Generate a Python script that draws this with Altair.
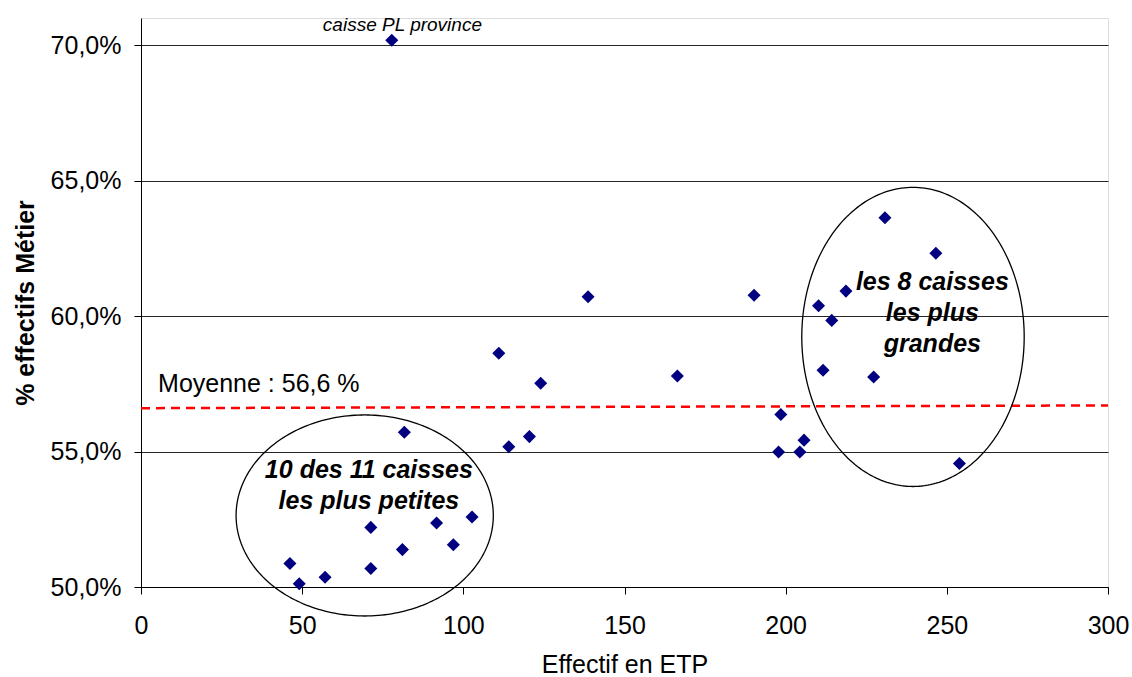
import altair as alt
import numpy as np
import pandas as pd

# Staff size (FTE) and share of "Métier" staff (%) per caisse
etp = [77.8, 46.2, 49.1, 57.1, 71.3, 71.3, 81.1, 81.7, 91.7, 96.9,
       102.7, 111.0, 114.1, 120.5, 124.0, 138.7, 166.4, 190.2, 197.8, 198.5,
       204.4, 205.7, 210.2, 211.6, 214.3, 218.7, 227.3, 230.8, 246.6, 253.9]
pct = [70.18, 50.87, 50.12, 50.36, 52.20, 50.68, 51.38, 55.71, 52.36, 51.56,
       52.58, 58.63, 55.18, 55.55, 57.52, 60.71, 57.79, 60.77, 54.98, 56.37,
       54.98, 55.42, 60.38, 58.00, 59.84, 60.92, 57.75, 63.63, 62.32, 54.56]

# Average line
mean_x = [0, 300]
mean_y = [56.6, 56.7]

# Groups circled on the chart: centre (x, y) and radii (x, y) in data units
groups = [
    {"cx": 69.4, "cy": 52.64, "rx": 39.9, "ry": 3.71},
    {"cx": 239.5, "cy": 59.23, "rx": 34.5, "ry": 5.52},
]

# Annotations
notes_bold = pd.DataFrame({
    "etp": [70.7, 245.5],
    "pct": [54.02, 60.96],
    "label": ["10 des 11 caisses\nles plus petites", "les 8 caisses\nles plus\ngrandes"],
})
note_outlier = pd.DataFrame({"etp": [81.1], "pct": [70.53], "label": ["caisse PL province"]})
note_mean = pd.DataFrame({"etp": [5.3], "pct": [57.2], "label": ["Moyenne : 56,6 %"]})

FONT = "Liberation Sans"

x = alt.X(
    "etp:Q",
    scale=alt.Scale(domain=[0, 300], nice=False, zero=False),
    axis=alt.Axis(
        title="Effectif en ETP", values=[0, 50, 100, 150, 200, 250, 300],
        grid=False, domainColor="black", tickColor="black", tickSize=7,
        labelFont=FONT, labelFontSize=25, labelColor="black", labelPadding=19,
        titleFont=FONT, titleFontSize=25, titleFontWeight="normal", titleColor="black",
        titlePadding=14, labelFlush=False,
    ),
)
y = alt.Y(
    "pct:Q",
    scale=alt.Scale(domain=[50, 71], nice=False, zero=False),
    axis=alt.Axis(
        title="% effectifs Métier", values=[50, 55, 60, 65, 70],
        labelExpr="replace(format(datum.value, '.1f'), '.', ',') + '%'",
        grid=True, gridColor="black", gridWidth=1, gridOpacity=0.85,
        domainColor="black", tickColor="black", tickSize=7,
        labelFont=FONT, labelFontSize=25, labelColor="black", labelPadding=13,
        titleFont=FONT, titleFontSize=25, titleFontWeight="bold", titleColor="black",
        titlePadding=12,
    ),
)

points = alt.Chart(pd.DataFrame({"etp": etp, "pct": pct})).mark_point(
    shape="diamond", filled=True, size=170, color="#000080", opacity=1
).encode(x=x, y=y)

mean_line = alt.Chart(pd.DataFrame({"etp": mean_x, "pct": mean_y})).mark_line(
    color="#ff0000", strokeWidth=2.5, strokeDash=[9, 6]
).encode(x=x, y=y)

ellipse_frames = []
t = np.linspace(0, 2 * np.pi, 241)
for k, g in enumerate(groups):
    ellipse_frames.append(pd.DataFrame({
        "etp": g["cx"] + g["rx"] * np.cos(t),
        "pct": g["cy"] + g["ry"] * np.sin(t),
        "i": np.arange(len(t)),
        "grp": k,
    }))
ellipses = alt.Chart(pd.concat(ellipse_frames)).mark_line(
    color="black", strokeWidth=1.3, clip=False
).encode(x=x, y=y, order="i:Q", detail="grp:N")

bold_text = alt.Chart(notes_bold).mark_text(
    font=FONT, fontSize=25, fontWeight="bold", fontStyle="italic",
    align="center", baseline="alphabetic", lineBreak="\n", lineHeight=31, color="black"
).encode(x=x, y=y, text="label:N")

outlier_text = alt.Chart(note_outlier).mark_text(
    font=FONT, fontSize=19, fontStyle="italic", align="center",
    baseline="alphabetic", color="black"
).encode(x=x, y=y, text="label:N")

mean_text = alt.Chart(note_mean).mark_text(
    font=FONT, fontSize=25, align="left", baseline="alphabetic", color="black"
).encode(x=x, y=y, text="label:N")

chart = alt.layer(
    mean_line, ellipses, points, bold_text, outlier_text, mean_text
).properties(
    width=967, height=569,
    autosize=alt.AutoSizeParams(type="none"),
    padding={"left": 141, "top": 18, "right": 24, "bottom": 90},
).configure_view(stroke=None).configure(background="white")

chart.save("out.html", embed_options={"renderer": "svg", "actions": False})
